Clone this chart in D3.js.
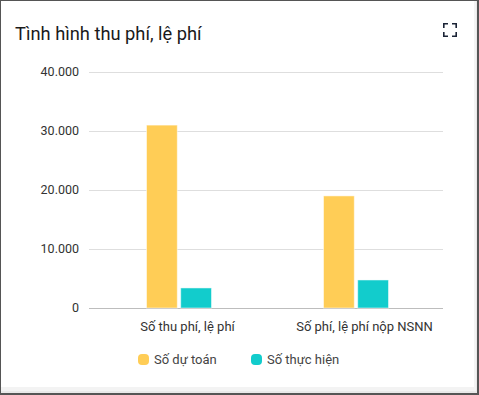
<!DOCTYPE html>
<html>
<head>
<meta charset="utf-8">
<script src="https://cdn.jsdelivr.net/npm/d3@7"></script>
<style>
  body { margin: 0; background: #fff; font-family: Roboto, "Noto Sans", sans-serif; }
  svg { display: block; }
</style>
</head>
<body>
<div id="chart"></div>
<script>
const categories = ["Số thu phí, lệ phí", "Số phí, lệ phí nộp NSNN"];
const seriesNames = ["Số dự toán", "Số thực hiện"];
const duToan = [31000, 19000];
const thucHien = [3400, 4750];
const yTicks = [0, 10000, 20000, 30000, 40000];
const colors = ["#ffcd56", "#12cccc"];

const width = 479, height = 395;
const margin = { top: 72, right: 36, bottom: 87, left: 89 };

const svg = d3.select("#chart").append("svg")
    .attr("width", width)
    .attr("height", height);

// frame + card
svg.append("rect")
    .attr("x", 0).attr("y", 0)
    .attr("width", width).attr("height", height)
    .attr("fill", "#555");
svg.append("rect")
    .attr("x", 1).attr("y", 1)
    .attr("width", 476).attr("height", 392)
    .attr("fill", "#e9e9e9");
svg.append("rect")
    .attr("x", 1).attr("y", 1)
    .attr("width", 475).attr("height", 390)
    .attr("fill", "#f3f3f3");
svg.append("rect")
    .attr("x", 1).attr("y", 1)
    .attr("width", 473).attr("height", 386)
    .attr("fill", "#fff");

svg.append("text")
    .attr("x", 15)
    .attr("y", 40)
    .attr("font-size", 18.3)
    .attr("fill", "#1a1a1a")
    .text("Tình hình thu phí, lệ phí");

// expand icon
const icon = svg.append("g")
    .attr("transform", "translate(443,23)")
    .attr("fill", "none")
    .attr("stroke", "#1b2436")
    .attr("stroke-width", 1.6);
icon.append("path").attr("d", "M0.8,5 V0.8 H5 M9,0.8 H13.2 V5 M13.2,9 V13.2 H9 M5,13.2 H0.8 V9");

const x0 = d3.scaleBand()
    .domain(categories)
    .range([margin.left, width - margin.right]);

const x1 = d3.scaleBand()
    .domain(seriesNames)
    .range([0, 65])
    .paddingInner(0.1);

const y = d3.scaleLinear()
    .domain([0, 40000])
    .range([height - margin.bottom, margin.top]);

const fmt = d => d3.format(",")(d).replace(/,/g, ".");

// gridlines
svg.append("g")
    .selectAll("line")
    .data(yTicks)
    .join("line")
    .attr("x1", margin.left)
    .attr("x2", width - margin.right)
    .attr("y1", d => Math.round(y(d)) + 0.5)
    .attr("y2", d => Math.round(y(d)) + 0.5)
    .attr("stroke", d => d === 0 ? "#bdbdbd" : "#dedede")
    .attr("stroke-width", 1);

svg.append("g")
    .selectAll("text")
    .data(yTicks)
    .join("text")
    .attr("x", margin.left - 10)
    .attr("y", d => y(d))
    .attr("dy", "0.35em")
    .attr("text-anchor", "end")
    .attr("font-size", 12.5)
    .attr("fill", "#333")
    .text(fmt);

// bars
const groups = svg.append("g")
    .selectAll("g")
    .data(categories)
    .join("g")
    .attr("transform", d => `translate(${x0(d) + x0.bandwidth() / 2 - 32 + 1},0)`);

groups.selectAll("rect")
    .data((d, i) => [
        { s: seriesNames[0], v: duToan[i], c: colors[0] },
        { s: seriesNames[1], v: thucHien[i], c: colors[1] }
    ])
    .join("rect")
    .attr("x", d => x1(d.s))
    .attr("y", d => y(d.v))
    .attr("width", x1.bandwidth())
    .attr("height", d => y(0) - y(d.v))
    .attr("fill", d => d.c)
    .attr("stroke", "#fff")
    .attr("stroke-opacity", 0.5)
    .attr("stroke-width", 1);

// category labels
svg.append("g")
    .selectAll("text")
    .data(categories)
    .join("text")
    .attr("x", d => x0(d) + x0.bandwidth() / 2 + 10)
    .attr("y", 331)
    .attr("text-anchor", "middle")
    .attr("font-size", 13)
    .attr("fill", "#333")
    .text(d => d);

// legend
const legendX = [138, 251];
const legend = svg.append("g")
    .selectAll("g")
    .data(seriesNames)
    .join("g")
    .attr("transform", (d, i) => `translate(${legendX[i]},354)`);

legend.append("rect")
    .attr("width", 11)
    .attr("height", 11)
    .attr("rx", 4)
    .attr("fill", (d, i) => colors[i]);

legend.append("text")
    .attr("x", 16)
    .attr("y", 10)
    .attr("font-size", 13)
    .attr("fill", "#444")
    .text(d => d);
</script>
</body>
</html>
